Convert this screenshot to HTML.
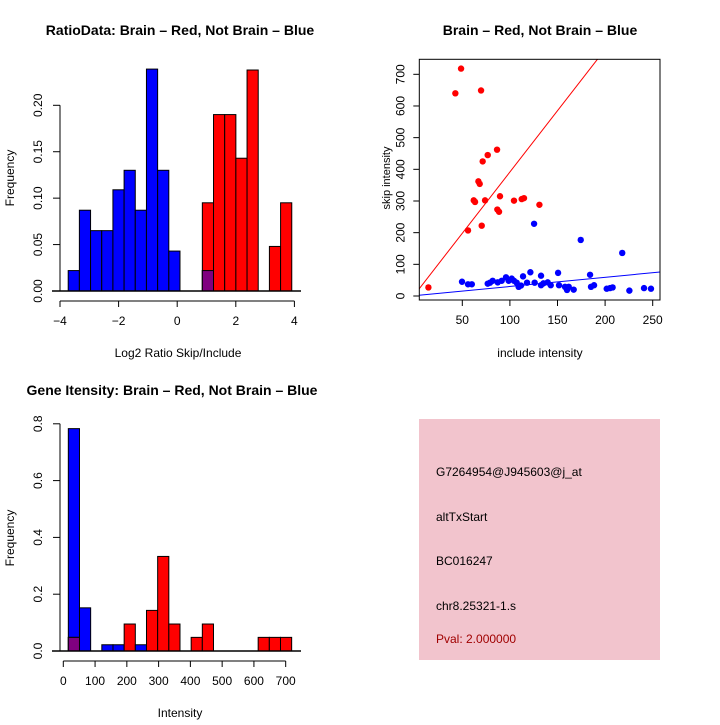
<!DOCTYPE html>
<html><head><meta charset="utf-8"><style>
html,body{margin:0;padding:0;background:#fff;}
svg text{font-family:"Liberation Sans",sans-serif;}
</style></head><body>
<svg id="chart" width="720" height="720" xmlns="http://www.w3.org/2000/svg">
<rect x="0" y="0" width="720" height="720" fill="#fff"/>
<text x="180" y="35" text-anchor="middle" font-size="14" font-weight="bold">RatioData: Brain – Red, Not Brain – Blue</text>
<text x="540" y="35" text-anchor="middle" font-size="14" font-weight="bold">Brain – Red, Not Brain – Blue</text>
<text x="172" y="395" text-anchor="middle" font-size="14" font-weight="bold">Gene Itensity: Brain – Red, Not Brain – Blue</text>
<text x="178" y="357" text-anchor="middle" font-size="12">Log2 Ratio Skip/Include</text>
<text x="14" y="178" text-anchor="middle" font-size="12" transform="rotate(-90 14 178)">Frequency</text>
<text x="540" y="357" text-anchor="middle" font-size="12">include intensity</text>
<text x="390" y="178" text-anchor="middle" font-size="11" transform="rotate(-90 390 178)">skip intensity</text>
<text x="180" y="717" text-anchor="middle" font-size="12">Intensity</text>
<text x="14" y="538" text-anchor="middle" font-size="12" transform="rotate(-90 14 538)">Frequency</text>
<g>
<rect x="419" y="419" width="241" height="241" fill="#f2c4cd"/>
<text x="436" y="476" font-size="12">G7264954@J945603@j_at</text>
<text x="436" y="521" font-size="12">altTxStart</text>
<text x="436" y="565" font-size="12">BC016247</text>
<text x="436" y="610" font-size="12">chr8.25321-1.s</text>
<text x="436" y="643" font-size="12" fill="#a00000">Pval: 2.000000</text>
</g>
</svg>
<script>
// ---- Ratio histogram data ----
const ratioBreakStart = -3.72;
const ratioBinWidth = 0.3815;
const ratioBlue = [0.022,0.087,0.065,0.065,0.109,0.130,0.087,0.239,0.130,0.043,0,0,0.022];
const ratioRed = [0,0,0,0,0,0,0,0,0,0,0,0,0.095,0.190,0.190,0.143,0.238,0,0.048,0.095];
const ratioXTicks = [-4,-2,0,2,4];
const ratioYTicks = ["0.00","0.05","0.10","0.15","0.20"];
// ---- Intensity histogram data ----
const intBreakStart = 15.8;
const intBinWidth = 35.15;
const intBlue = [0.783,0.152,0,0.022,0.022,0,0.022];
const intRed = [0.048,0,0,0,0,0.095,0,0.143,0.333,0.095,0,0.048,0.095,0,0,0,0,0.048,0.048,0.048];
const intXTicks = [0,100,200,300,400,500,600,700];
const intYTicks = ["0.0","0.2","0.4","0.6","0.8"];
// ---- Scatter data ----
const redX = [14.4,48.7,42.7,69.7,86.5,76.7,71.4,66.9,68.3,62,63.4,73.9,89.6,86.8,88.6,70.4,56,104.3,112.4,114.8,131];
const redY = [27,718,640,649,462,445,425,362,354,302,297,302,315,273,266,222,207,301,306,309,288];
const blueX = [125.4,174.4,218,49.7,56,60,76.7,79.1,81.9,87.2,91.4,95.9,98.7,101.9,104.3,107.1,109.2,111.7,113.8,118,121.5,126,132.7,132.7,135.2,139.7,142.9,150.6,151.6,157.9,160,161.8,167,184.2,185.2,188.4,201.7,205.2,207.9,225.5,240.9,248.2];
const blueY = [228,177,136,45,37,37,39,42,48,43,48,59,48,55,48,42,29,33,62,42,75,42,64,34,40,43,34,73,34,29,19,29,20,67,29,34,23,25,27,17,25,23];
const redFit = [4.6,3.87];
const blueFit = [1,0.29];
const scatterXTicks = [50,100,150,200,250];
const scatterYTicks = [0,100,200,300,400,500,600,700];

const NS='http://www.w3.org/2000/svg';
const svg=document.getElementById('chart');
function mk(tag,attrs,parent){const e=document.createElementNS(NS,tag);for(const k in attrs)e.setAttribute(k,attrs[k]);(parent||svg).appendChild(e);return e;}
function grp(name){const g=mk('g',{});return g;}

function histogram(cfg){
  const g=grp(cfg.name);
  const sx=v=>cfg.x0+(v-cfg.xmin)*cfg.xs;
  const sy=v=>cfg.y0-v*cfg.ys;
  const n=Math.max(cfg.blue.length,cfg.red.length);
  for(let i=0;i<n;i++){
    const a=cfg.start+i*cfg.w, b=a+cfg.w;
    const bv=cfg.blue[i]||0, rv=cfg.red[i]||0;
    const x1=sx(a), x2=sx(b);
    if(bv>0){const r=mk('rect',{x:x1,y:sy(bv),width:x2-x1,height:sy(0)-sy(bv),fill:'#0000ff',stroke:'#000','stroke-width':1},g);
      
      }
    if(rv>0){const r=mk('rect',{x:x1,y:sy(rv),width:x2-x1,height:sy(0)-sy(rv),fill:'#ff0000',stroke:'#000','stroke-width':1},g);
      
      }
    if(bv>0&&rv>0){const m=Math.min(bv,rv);const r=mk('rect',{x:x1,y:sy(m),width:x2-x1,height:sy(0)-sy(m),fill:'#800080',stroke:'#000','stroke-width':1},g);
      
      }
  }
  const base=mk('line',{x1:cfg.baseL,x2:cfg.baseR,y1:cfg.y0,y2:cfg.y0,stroke:'#000','stroke-width':1.5},g);
  
  
  // x axis
  const xa=grp(cfg.name+'-x-axis');
  const xt=cfg.xticks;
  mk('line',{x1:sx(xt[0]),x2:sx(xt[xt.length-1]),y1:cfg.xaxisY,y2:cfg.xaxisY,stroke:'#000'},xa);
  xt.forEach(v=>{mk('line',{x1:sx(v),x2:sx(v),y1:cfg.xaxisY,y2:cfg.xaxisY+6,stroke:'#000'},xa);
    const t=mk('text',{x:sx(v),y:cfg.xaxisY+24,'text-anchor':'middle','font-size':12},xa);t.textContent=String(v).replace('-','−');
    
    });
  // y axis
  const ya=grp(cfg.name+'-y-axis');
  const yt=cfg.yticks;
  const yv=yt.map(Number);
  mk('line',{x1:cfg.yaxisX,x2:cfg.yaxisX,y1:sy(yv[0]),y2:sy(yv[yv.length-1]),stroke:'#000'},ya);
  yt.forEach((s,i)=>{const y=sy(yv[i]);mk('line',{x1:cfg.yaxisX-7,x2:cfg.yaxisX,y1:y,y2:y,stroke:'#000'},ya);
    const tx=cfg.yaxisX-18;
    const t=mk('text',{x:tx,y:y,'text-anchor':'middle','font-size':12,transform:`rotate(-90 ${tx} ${y})`},ya);t.textContent=s;
    
    });
}
histogram({name:'ratio-histogram',blue:ratioBlue,red:ratioRed,start:ratioBreakStart,w:ratioBinWidth,xmin:-4,x0:60,xs:29.3,y0:291,ys:928.5,baseL:52,baseR:301,xaxisY:301,xticks:ratioXTicks,yticks:ratioYTicks,yaxisX:60});
histogram({name:'intensity-histogram',blue:intBlue,red:intRed,start:intBreakStart,w:intBinWidth,xmin:0,x0:63.3,xs:0.3177,y0:651,ys:284,baseL:52,baseR:301,xaxisY:661,xticks:intXTicks,yticks:intYTicks,yaxisX:60});

// scatter
(function(){
  const g=grp('scatter-plot');
  const L=419.3,R=660,T=59.3,B=300;
  const sx=v=>414.7+v*0.952, sy=v=>296-v*0.3167;
  const cp=mk('clipPath',{id:'sc'},g);mk('rect',{x:L,y:T,width:R-L,height:B-T},cp);
  const fitLine=(f,col,name)=>{const x1=0,x2=260;const l=mk('line',{x1:sx(x1),y1:sy(f[0]+f[1]*x1),x2:sx(x2),y2:sy(f[0]+f[1]*x2),stroke:col,'stroke-width':1,'clip-path':'url(#sc)'},g);
    
    };
  fitLine(redFit,'#ff0000','red-fit-line');
  fitLine(blueFit,'#0000ff','blue-fit-line');
  redX.forEach((x,i)=>{const c=mk('circle',{cx:sx(x),cy:sy(redY[i]),r:3.2,fill:'#ff0000'},g);
    
    });
  blueX.forEach((x,i)=>{const c=mk('circle',{cx:sx(x),cy:sy(blueY[i]),r:3.2,fill:'#0000ff'},g);
    
    });
  const box=mk('rect',{x:L,y:T,width:R-L,height:B-T,fill:'none',stroke:'#000','stroke-width':1},g);
  
  
  scatterXTicks.forEach(v=>{mk('line',{x1:sx(v),x2:sx(v),y1:B,y2:B+6,stroke:'#000'},g);
    const t=mk('text',{x:sx(v),y:B+24,'text-anchor':'middle','font-size':12},g);t.textContent=v;
    
    });
  scatterYTicks.forEach(v=>{const y=sy(v);mk('line',{x1:L-6,x2:L,y1:y,y2:y,stroke:'#000'},g);
    const tx=L-15;const t=mk('text',{x:tx,y:y,'text-anchor':'middle','font-size':12,transform:`rotate(-90 ${tx} ${y})`},g);t.textContent=v;
    
    });
})();
</script>
</body></html>
